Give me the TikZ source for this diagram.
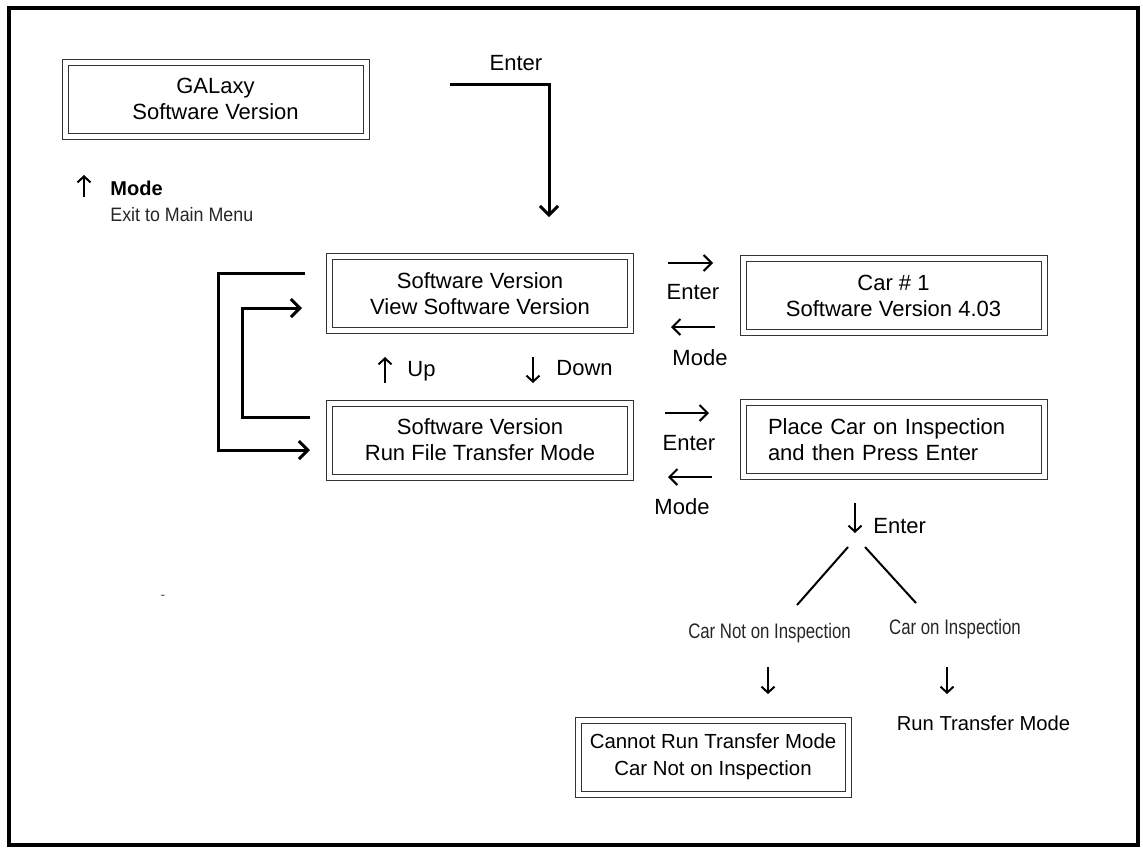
\documentclass[tikz,border=0pt]{standalone}
\usepackage{fontspec}
\setmainfont{Liberation Sans}
\newfontfamily\narrowfont[FakeStretch=0.8]{Liberation Sans}
\newfontfamily\semifont[FakeStretch=0.92]{Liberation Sans}
\usetikzlibrary{arrows.meta,calc}
\tikzset{
  lcdbox/.style={draw=black!80, line width=0.5pt, double=white, double distance=2.5pt,
    inner sep=0pt, minimum width=150.5pt, minimum height=37pt, align=center,
    font=\fontsize{11}{13}\selectfont},
  conn/.style={line width=1.5pt, -{Straight Barb[length=4.5pt,width=9pt,line width=1.5pt]}},
  connplain/.style={line width=1.5pt},
  glyph/.style={line width=1pt, -{Straight Barb[length=3pt,width=6.5pt,line width=1pt]}},
  hglyph/.style={line width=1pt, -{Straight Barb[length=4pt,width=8pt,line width=1pt]}},
  lbl/.style={inner sep=0pt, font=\fontsize{11}{13}\selectfont},
  small/.style={inner sep=0pt, text=black!85, font=\narrowfont\fontsize{10.5}{12}\selectfont},
  diag/.style={line width=1pt}
}
\begin{document}
\begin{tikzpicture}[x=0.5pt,y=-0.5pt]
\useasboundingbox (0,0) rectangle (1143,848);
% frame
\draw[line width=2pt] (8.5,8) rectangle (1137.5,845);

% boxes
\node[lcdbox] (gal) at (215.5,99) {GALaxy\\Software Version};
\node[lcdbox] (sv1) at (480,293.5) {Software Version\\View Software Version};
\node[lcdbox] (sv2) at (480,440) {Software Version\\Run File Transfer Mode};
\node[lcdbox] (car) at (893.5,295.5) {Car \# 1\\Software Version 4.03};
\node[lcdbox, align=left, text width=125.5pt, inner xsep=12.5pt] (place) at (893.5,439.5)
  {Place Car on Inspection\\and then Press Enter};
\node[lcdbox, minimum width=135pt, font=\fontsize{10.2}{13.5}\selectfont] (cannot) at (713,757)
  {Cannot Run Transfer Mode\\Car Not on Inspection};

% top Enter connector
\node[lbl] (enterTop) at (516,63) {Enter};
\coordinate (eStart) at (450,84);
\coordinate (eEnd) at (549,217);
\draw[conn] (eStart) -- (eEnd |- eStart) -- (eEnd);

% Mode exit
\coordinate (mA1) at (84,197);
\coordinate (mA2) at (84,175);
\draw[glyph] (mA1) -- (mA2);
\node[lbl, anchor=west, font=\bfseries\fontsize{10}{12}\selectfont] (modeExit) at (110,188) {Mode};
\node[inner sep=0pt, anchor=west, text=black!85, font=\semifont\fontsize{9.7}{12}\selectfont] (exitTxt) at (110,215) {Exit to Main Menu};

% loops
\coordinate (l1s) at (305,273);
\coordinate (l1e) at (310,450);
\draw[conn] (l1s) -- (218,273) -- (218,450) -- (l1e);
\coordinate (l2s) at (310,417);
\coordinate (l2e) at (302,308);
\draw[conn] (l2s) -- (242,417) -- (242,308) -- (l2e);

% Up / Down
\coordinate (upA1) at (385,383);
\coordinate (upA2) at (385,357);
\draw[glyph] (upA1) -- (upA2);
\node[lbl, anchor=west] (up) at (407,371) {Up};
\coordinate (dnA1) at (533,357);
\coordinate (dnA2) at (533,383);
\draw[glyph] (dnA1) -- (dnA2);
\node[lbl, anchor=west] (down) at (556,368) {Down};

% Enter / Mode between sv1 and car
\coordinate (r1a) at (668,263);
\coordinate (r1b) at (713,263);
\draw[hglyph] (r1a) -- (r1b);
\node[lbl] (enter1) at (693,292) {Enter};
\coordinate (l1a) at (715,327);
\coordinate (l1b) at (671,327);
\draw[hglyph] (l1a) -- (l1b);
\node[lbl] (mode1) at (700,358) {Mode};

% Enter / Mode between sv2 and place
\coordinate (r2a) at (665,413);
\coordinate (r2b) at (709,413);
\draw[hglyph] (r2a) -- (r2b);
\node[lbl] (enter2) at (689,443) {Enter};
\coordinate (l2a) at (712,477);
\coordinate (l2b) at (668,477);
\draw[hglyph] (l2a) -- (l2b);
\node[lbl] (mode2) at (682,507) {Mode};

% Enter below place
\coordinate (dEa) at (855,503);
\coordinate (dEb) at (855,533);
\draw[glyph] (dEa) -- (dEb);
\node[lbl, anchor=west] (enter3) at (873,526) {Enter};

% branches
\coordinate (bL1) at (848,547);
\coordinate (bL2) at (797,605);
\coordinate (bR1) at (865,547);
\coordinate (bR2) at (916,603);
\draw[diag] (bL1) -- (bL2);
\draw[diag] (bR1) -- (bR2);
\node[small] (notInsp) at (769.5,633) {Car Not on Inspection};
\node[small] (onInsp) at (955,629) {Car on Inspection};

\coordinate (d1a) at (768,667);
\coordinate (d1b) at (768,694);
\draw[glyph] (d1a) -- (d1b);
\coordinate (d2a) at (947,667);
\coordinate (d2b) at (947,694);
\draw[glyph] (d2a) -- (d2b);
\node[lbl, font=\fontsize{10.1}{12}\selectfont] (runTM) at (983.5,723) {Run Transfer Mode};

% stray dash
\node[inner sep=0pt, text=black!70, font=\fontsize{7}{8}\selectfont] (dash) at (163,597) {-};
\end{tikzpicture}
\end{document}
